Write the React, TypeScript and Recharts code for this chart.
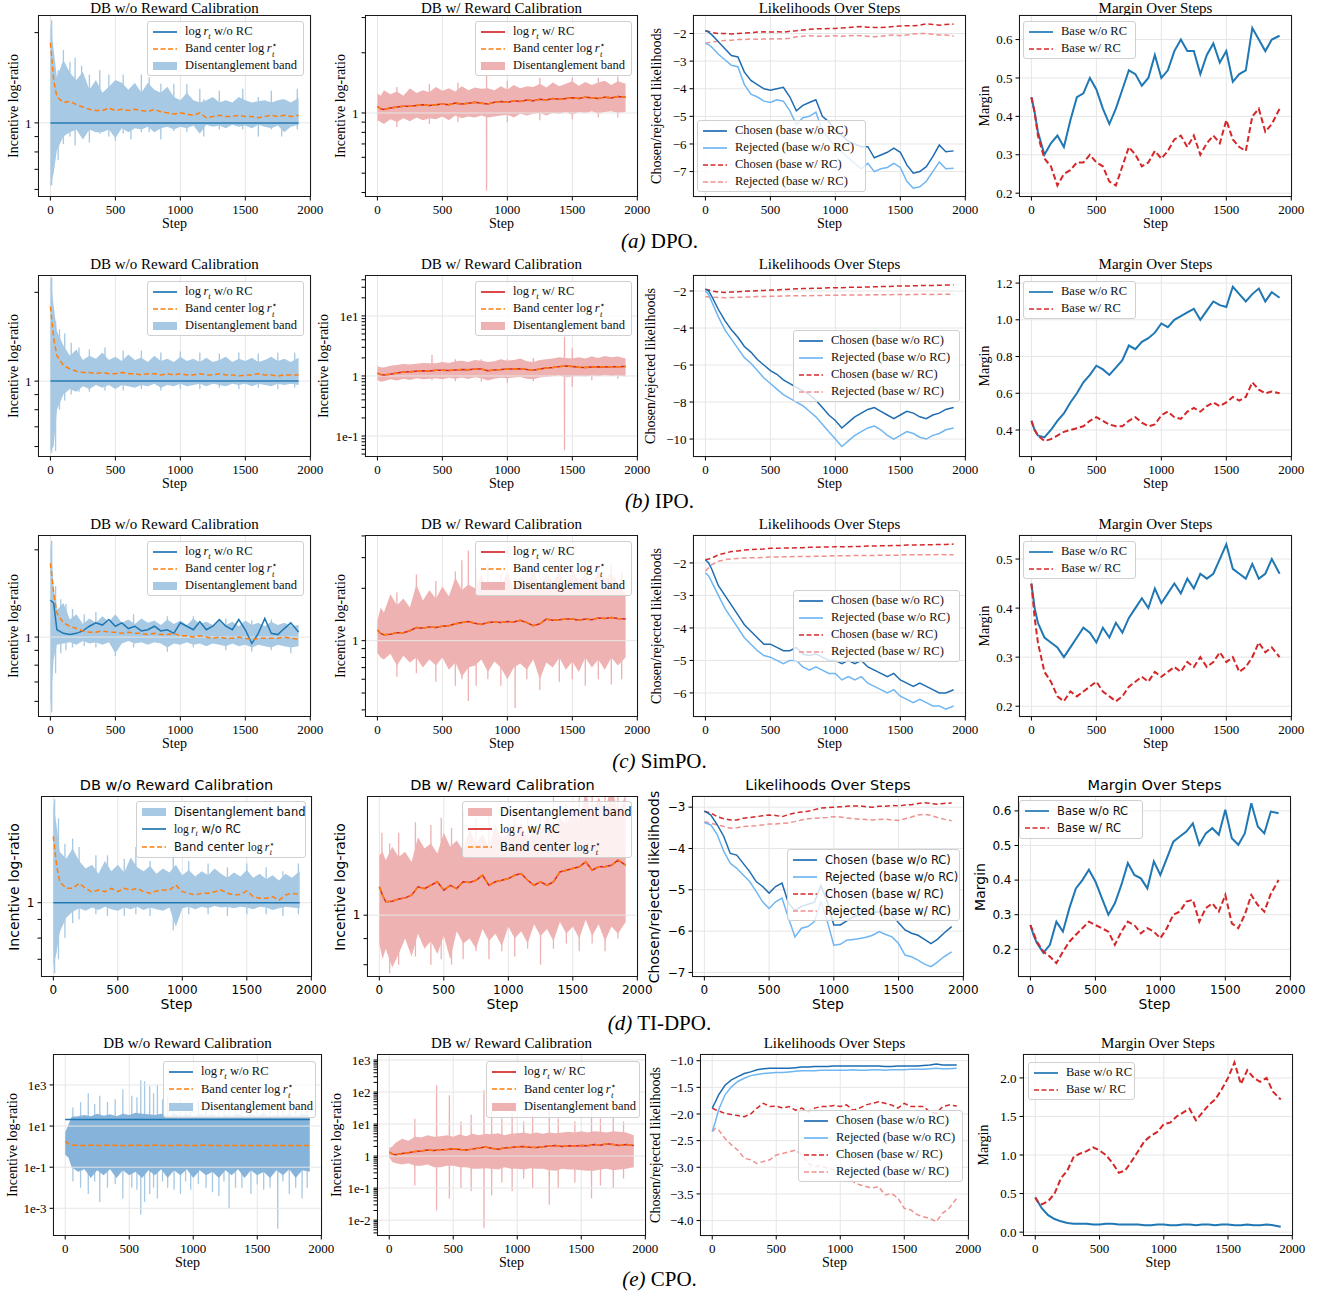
import React from 'react'
import { ComposedChart, Line, Area, XAxis, YAxis, CartesianGrid, ReferenceLine } from 'recharts'

const SERIF = '"Liberation Serif", "DejaVu Serif", serif'
const SANS = '"DejaVu Sans", "Liberation Sans", sans-serif'

const BLUE = '#1f77b4'
const DARK_BLUE = '#1f6db0'
const LIGHT_BLUE = '#6fb6f2'
const RED = '#d62728'
const PINK = '#ef9090'
const ORANGE = '#ff7f0e'
const GRID = '#e6e6e6'
const BAND_BLUE = '#a8c9e3'
const BAND_BLUE_DENSE = '#86b3d9'
const BAND_RED = '#efb2b2'

// x positions shared by every series (steps)
const STEPS = [0, 25, 50, 100, 150, 200, 250, 300, 350, 400,
  450, 500, 550, 600, 650, 700, 750, 800, 850, 900,
  950, 1000, 1050, 1100, 1150, 1200, 1250, 1300, 1350, 1400,
  1450, 1500, 1550, 1600, 1650, 1700, 1750, 1800, 1850, 1910]
const RT_STEPS = [0, 1910]
const X_TICKS = [0, 500, 1000, 1500, 2000]

// ---------- (a) DPO ----------
const aRtNoRC = [1, 1]
const aCenter1 = [1.85, 1.39, 1.22, 1.17, 1.18, 1.15, 1.13, 1.11, 1.10, 1.10,
  1.12, 1.10, 1.11, 1.10, 1.11, 1.10, 1.09, 1.11, 1.09, 1.08,
  1.07, 1.08, 1.07, 1.06, 1.08, 1.04, 1.05, 1.06, 1.05, 1.05,
  1.06, 1.05, 1.05, 1.04, 1.05, 1.06, 1.05, 1.06, 1.05, 1.06]
const aHi1 = [2.15, 1.75, 1.42, 1.62, 1.47, 1.39, 1.48, 1.29, 1.39, 1.26,
  1.32, 1.39, 1.36, 1.29, 1.36, 1.26, 1.36, 1.29, 1.26, 1.32,
  1.22, 1.19, 1.26, 1.19, 1.17, 1.19, 1.22, 1.17, 1.19, 1.17,
  1.22, 1.19, 1.17, 1.18, 1.19, 1.17, 1.19, 1.20, 1.17, 1.21]
const aLo1 = [0.61, 0.68, 0.81, 0.90, 0.93, 0.95, 0.88, 0.95, 0.93, 0.93,
  0.95, 0.89, 0.96, 0.93, 0.96, 0.95, 0.97, 0.93, 0.96, 0.97,
  0.95, 0.97, 0.96, 0.98, 0.92, 0.985, 0.97, 0.98, 0.96, 0.985,
  0.97, 0.98, 0.96, 0.985, 0.97, 0.96, 0.98, 0.93, 0.97, 0.985]
const aSpikeX1 = [10, 60, 100, 150, 190, 240, 300, 380, 450, 500, 560, 620, 700, 760, 850, 950, 1050, 1150, 1180, 1300, 1480, 1600, 1700, 1780, 1900]
const aSpikeLo1 = [0.62, 0.75, 0.85, 0.90, 0.84, 0.90, 0.86, 0.92, 0.90, 0.87, 0.92, 0.88, 0.93, 0.93, 0.88, 0.94, 0.93, 0.95, 0.90, 0.95, 0.95, 0.90, 0.95, 0.90, 0.95]
const aSpikeHi1 = [2.2, 1.5, 1.75, 1.6, 1.65, 1.55, 1.45, 1.5, 1.45, 1.3, 1.45, 1.3, 1.45, 1.42, 1.35, 1.35, 1.35, 1.3, 1.2, 1.28, 1.3, 1.22, 1.28, 1.2, 1.3]
const aCenter2 = [1.08, 1.05, 1.04, 1.06, 1.07, 1.08, 1.08, 1.09, 1.10, 1.09,
  1.10, 1.11, 1.10, 1.12, 1.11, 1.12, 1.13, 1.12, 1.11, 1.13,
  1.14, 1.13, 1.15, 1.14, 1.16, 1.15, 1.17, 1.16, 1.18, 1.17,
  1.18, 1.19, 1.18, 1.20, 1.19, 1.18, 1.20, 1.19, 1.21, 1.20]
const aHi2 = [1.25, 1.22, 1.30, 1.24, 1.28, 1.22, 1.33, 1.26, 1.30, 1.27,
  1.35, 1.29, 1.33, 1.28, 1.36, 1.30, 1.34, 1.32, 1.33, 1.30,
  1.36, 1.31, 1.38, 1.33, 1.36, 1.35, 1.40, 1.34, 1.42, 1.36,
  1.40, 1.44, 1.37, 1.43, 1.38, 1.42, 1.45, 1.38, 1.44, 1.40]
const aLo2 = [0.92, 0.90, 0.88, 0.93, 0.90, 0.94, 0.91, 0.95, 0.92, 0.94,
  0.93, 0.96, 0.92, 0.97, 0.94, 0.96, 0.95, 0.97, 0.95, 0.96,
  0.97, 0.98, 0.95, 0.99, 0.97, 0.99, 1.00, 0.97, 1.00, 0.99,
  1.01, 0.98, 1.01, 1.00, 1.02, 0.99, 1.01, 1.02, 1.00, 1.01]
const aSpikeX2 = [150, 400, 620, 840, 1000, 1250, 1500, 1700, 1850]
const aSpikeLo2 = [0.85, 0.88, 0.90, 0.41, 0.90, 0.92, 0.93, 0.95, 0.95]
const aSpikeHi2 = [1.35, 1.40, 1.42, 1.55, 1.45, 1.50, 1.50, 1.50, 1.52]
const aChosenNoRC = [-1.9, -1.95, -2.05, -2.3, -2.55, -2.8, -2.85, -3.4, -3.7, -3.85,
  -4.0, -4.05, -4.0, -3.95, -4.3, -4.8, -4.6, -4.5, -4.4, -5.0,
  -5.2, -5.5, -5.7, -5.9, -6.0, -6.1, -6.1, -6.5, -6.4, -6.3,
  -6.15, -6.3, -6.76, -7.06, -7.0, -6.82, -6.46, -6.04, -6.28, -6.25]
const aRejNoRC = [-2.35, -2.4, -2.5, -2.75, -2.95, -3.15, -3.2, -3.85, -4.2, -4.3,
  -4.45, -4.5, -4.4, -4.45, -4.8, -5.3, -5.05, -5.0, -4.85, -5.5,
  -5.8, -6.1, -6.3, -6.5, -6.7, -6.9, -6.7, -7.0, -6.9, -6.85,
  -6.7, -6.85, -7.35, -7.6, -7.55, -7.35, -7.0, -6.65, -6.9, -6.88]
const aChosenRC = [-1.9, -1.93, -1.97, -2.0, -2.0, -2.02, -2.0, -1.98, -1.97, -1.95,
  -1.94, -1.95, -1.94, -1.95, -1.92, -1.9, -1.87, -1.85, -1.83, -1.83,
  -1.82, -1.82, -1.8, -1.78, -1.76, -1.75, -1.77, -1.78, -1.78, -1.77,
  -1.75, -1.73, -1.72, -1.72, -1.7, -1.65, -1.67, -1.7, -1.67, -1.66]
const aRejRC = [-2.35, -2.33, -2.3, -2.28, -2.25, -2.24, -2.22, -2.22, -2.2, -2.21,
  -2.2, -2.2, -2.19, -2.2, -2.17, -2.12, -2.1, -2.08, -2.1, -2.1,
  -2.09, -2.08, -2.1, -2.08, -2.07, -2.08, -2.1, -2.12, -2.1, -2.07,
  -2.05, -2.08, -2.05, -2.02, -2.0, -2.0, -2.03, -2.05, -2.05, -2.1]
const aMarginNoRC = [0.45, 0.41, 0.36, 0.30, 0.33, 0.35, 0.32, 0.39, 0.45, 0.46,
  0.50, 0.47, 0.42, 0.38, 0.42, 0.47, 0.52, 0.51, 0.48, 0.50,
  0.56, 0.50, 0.52, 0.57, 0.60, 0.57, 0.57, 0.51, 0.56, 0.59,
  0.54, 0.57, 0.49, 0.51, 0.52, 0.63, 0.60, 0.57, 0.60, 0.61]
const aMarginRC = [0.45, 0.41, 0.35, 0.29, 0.27, 0.22, 0.25, 0.26, 0.28, 0.28,
  0.30, 0.28, 0.27, 0.23, 0.22, 0.27, 0.32, 0.30, 0.27, 0.28,
  0.31, 0.29, 0.31, 0.34, 0.35, 0.32, 0.35, 0.30, 0.33, 0.35,
  0.33, 0.39, 0.34, 0.32, 0.31, 0.40, 0.42, 0.36, 0.38, 0.42]

// ---------- (b) IPO ----------
const bRtNoRC = [1, 1]
const bCenter1 = [1.79, 1.40, 1.22, 1.13, 1.10, 1.08, 1.07, 1.07, 1.06, 1.07,
  1.06, 1.06, 1.07, 1.06, 1.06, 1.05, 1.06, 1.06, 1.05, 1.06,
  1.05, 1.06, 1.05, 1.05, 1.06, 1.05, 1.05, 1.06, 1.05, 1.05,
  1.04, 1.05, 1.05, 1.06, 1.05, 1.05, 1.04, 1.05, 1.05, 1.05]
const bHi1 = [2.25, 1.80, 1.48, 1.32, 1.22, 1.28, 1.18, 1.22, 1.19, 1.25,
  1.18, 1.21, 1.17, 1.23, 1.18, 1.20, 1.16, 1.22, 1.17, 1.19,
  1.16, 1.21, 1.17, 1.19, 1.16, 1.20, 1.16, 1.18, 1.21, 1.16,
  1.19, 1.17, 1.20, 1.16, 1.18, 1.21, 1.17, 1.19, 1.16, 1.20]
const bLo1 = [0.58, 0.60, 0.80, 0.90, 0.94, 0.92, 0.96, 0.94, 0.97, 0.95,
  0.97, 0.94, 0.97, 0.96, 0.95, 0.97, 0.96, 0.98, 0.95, 0.97,
  0.96, 0.98, 0.96, 0.97, 0.98, 0.96, 0.98, 0.97, 0.96, 0.98,
  0.97, 0.98, 0.96, 0.98, 0.97, 0.96, 0.98, 0.97, 0.98, 0.97]
const bSpikeX1 = [10, 40, 70, 110, 160, 220, 300, 420, 560, 700, 850, 1000, 1150, 1300, 1450, 1600, 1750, 1880]
const bSpikeLo1 = [0.57, 0.58, 0.80, 0.86, 0.90, 0.92, 0.92, 0.93, 0.93, 0.94, 0.93, 0.94, 0.94, 0.95, 0.94, 0.95, 0.94, 0.95]
const bSpikeHi1 = [2.25, 1.60, 1.50, 1.45, 1.35, 1.30, 1.28, 1.30, 1.27, 1.27, 1.25, 1.26, 1.25, 1.24, 1.25, 1.24, 1.25, 1.25]
const bCenter2 = [1.11, 1.06, 1.04, 1.07, 1.12, 1.16, 1.18, 1.20, 1.22, 1.21,
  1.24, 1.25, 1.23, 1.26, 1.28, 1.27, 1.30, 1.31, 1.22, 1.26,
  1.28, 1.31, 1.30, 1.32, 1.28, 1.25, 1.30, 1.36, 1.38, 1.43,
  1.46, 1.44, 1.40, 1.38, 1.41, 1.43, 1.41, 1.43, 1.42, 1.44]
const bHi2 = [1.45, 1.40, 1.38, 1.48, 1.52, 1.58, 1.55, 1.60, 1.65, 1.62,
  1.62, 1.70, 1.65, 1.75, 1.80, 1.70, 1.85, 1.80, 1.70, 1.75,
  1.90, 1.80, 1.85, 1.95, 1.75, 1.70, 1.85, 1.90, 1.95, 2.05,
  2.00, 1.95, 2.05, 1.95, 2.10, 2.00, 2.15, 2.05, 2.10, 1.95]
const bLo2 = [0.86, 0.80, 0.82, 0.88, 0.84, 0.90, 0.86, 0.92, 0.88, 0.90,
  0.92, 0.88, 0.93, 0.90, 0.94, 0.89, 0.95, 0.92, 0.84, 0.90,
  0.93, 0.92, 0.94, 0.96, 0.90, 0.88, 0.94, 0.97, 0.99, 1.02,
  0.95, 0.98, 1.0, 0.98, 1.02, 0.99, 1.03, 1.0, 1.02, 0.98]
const bSpikeX2 = [420, 600, 800, 1000, 1200, 1440, 1500, 1650, 1850]
const bSpikeLo2 = [0.85, 0.82, 0.80, 0.77, 0.82, 0.058, 0.66, 0.85, 0.90]
const bSpikeHi2 = [2.24, 1.90, 1.90, 1.90, 2.00, 4.50, 2.90, 2.10, 2.10]
const bChosenNoRC = [-1.9, -2.0, -2.3, -3.0, -3.6, -4.1, -4.5, -5.0, -5.3, -5.7,
  -6.0, -6.3, -6.5, -6.8, -7.0, -7.2, -7.4, -7.6, -7.9, -8.3,
  -8.7, -9.0, -9.4, -9.1, -8.8, -8.6, -8.4, -8.3, -8.5, -8.7,
  -8.9, -8.7, -8.5, -8.6, -8.8, -8.9, -8.7, -8.6, -8.4, -8.3]
const bRejNoRC = [-2.0, -2.2, -2.6, -3.4, -4.1, -4.6, -5.1, -5.6, -5.9, -6.3,
  -6.7, -7.0, -7.3, -7.6, -7.8, -8.0, -8.2, -8.5, -8.8, -9.2,
  -9.6, -10.0, -10.4, -10.1, -9.8, -9.6, -9.4, -9.3, -9.5, -9.8,
  -10.0, -9.8, -9.6, -9.7, -9.9, -10.0, -9.8, -9.7, -9.5, -9.4]
const bChosenRC = [-1.9, -1.95, -2.0, -2.05, -2.08, -2.06, -2.04, -2.02, -2.0, -1.98,
  -1.97, -1.95, -1.94, -1.92, -1.9, -1.88, -1.87, -1.86, -1.85, -1.85,
  -1.83, -1.82, -1.82, -1.8, -1.79, -1.8, -1.78, -1.77, -1.76, -1.76,
  -1.74, -1.73, -1.73, -1.72, -1.71, -1.7, -1.7, -1.69, -1.68, -1.68]
const bRejRC = [-2.3, -2.32, -2.34, -2.35, -2.36, -2.35, -2.34, -2.33, -2.32, -2.3,
  -2.3, -2.29, -2.28, -2.27, -2.26, -2.26, -2.25, -2.25, -2.24, -2.24,
  -2.23, -2.23, -2.22, -2.22, -2.21, -2.22, -2.21, -2.2, -2.2, -2.2,
  -2.19, -2.19, -2.2, -2.19, -2.18, -2.18, -2.19, -2.18, -2.18, -2.17]
const bMarginNoRC = [0.45, 0.40, 0.37, 0.36, 0.40, 0.45, 0.49, 0.55, 0.60, 0.66,
  0.70, 0.75, 0.73, 0.70, 0.74, 0.78, 0.86, 0.84, 0.88, 0.90,
  0.93, 0.98, 0.96, 1.00, 1.02, 1.04, 1.06, 1.00, 1.05, 1.10,
  1.08, 1.07, 1.18, 1.14, 1.10, 1.14, 1.17, 1.10, 1.15, 1.12]
const bMarginRC = [0.45, 0.40, 0.37, 0.34, 0.35, 0.37, 0.39, 0.40, 0.41, 0.42,
  0.45, 0.47, 0.45, 0.43, 0.42, 0.42, 0.45, 0.47, 0.44, 0.42,
  0.43, 0.48, 0.50, 0.47, 0.46, 0.50, 0.52, 0.50, 0.53, 0.55,
  0.53, 0.55, 0.58, 0.56, 0.58, 0.66, 0.62, 0.60, 0.61, 0.60]

// ---------- (c) SimPO ----------
const cRt1 = [1.34, 1.31, 1.06, 1.03, 1.02, 1.03, 1.05, 1.09, 1.12, 1.10,
  1.15, 1.09, 1.12, 1.07, 1.09, 1.05, 1.06, 1.09, 1.05, 1.06,
  1.03, 1.12, 1.09, 1.06, 1.13, 1.06, 1.09, 1.15, 1.09, 1.06,
  1.15, 1.06, 0.95, 1.03, 1.16, 1.03, 1.02, 1.07, 1.12, 1.04]
const cCenter1 = [1.80, 1.42, 1.21, 1.12, 1.09, 1.07, 1.05, 1.04, 1.04, 1.05,
  1.04, 1.04, 1.03, 1.04, 1.03, 1.03, 1.02, 1.03, 1.02, 1.02,
  1.03, 1.01, 1.01, 1.00, 1.01, 1.00, 0.99, 1.00, 0.99, 0.99,
  1.00, 0.99, 0.98, 0.99, 0.99, 0.99, 0.99, 1.00, 0.99, 0.985]
const cHi1 = [2.14, 1.49, 1.24, 1.31, 1.15, 1.20, 1.11, 1.16, 1.12, 1.18,
  1.13, 1.20, 1.12, 1.15, 1.11, 1.16, 1.12, 1.14, 1.10, 1.15,
  1.11, 1.14, 1.10, 1.16, 1.11, 1.13, 1.10, 1.15, 1.10, 1.13,
  1.09, 1.14, 1.10, 1.12, 1.09, 1.13, 1.10, 1.12, 1.09, 1.10]
const cLo1 = [0.57, 0.84, 0.94, 0.95, 0.96, 0.94, 0.97, 0.95, 0.96, 0.94,
  0.96, 0.88, 0.95, 0.97, 0.95, 0.96, 0.94, 0.96, 0.95, 0.92,
  0.95, 0.94, 0.96, 0.94, 0.95, 0.93, 0.95, 0.94, 0.93, 0.95,
  0.93, 0.94, 0.92, 0.94, 0.93, 0.92, 0.94, 0.93, 0.92, 0.93]
const cSpikeX1 = [10, 40, 80, 120, 170, 260, 350, 500, 640, 900, 1100, 1350, 1550, 1700, 1850]
const cSpikeLo1 = [0.55, 0.75, 0.88, 0.90, 0.92, 0.93, 0.92, 0.86, 0.92, 0.89, 0.92, 0.90, 0.89, 0.90, 0.88]
const cSpikeHi1 = [2.15, 1.50, 1.35, 1.30, 1.25, 1.20, 1.22, 1.15, 1.20, 1.18, 1.18, 1.16, 1.14, 1.15, 1.12]
const cCenter2 = [1.15, 1.10, 1.08, 1.09, 1.11, 1.11, 1.14, 1.19, 1.18, 1.20,
  1.19, 1.21, 1.22, 1.25, 1.27, 1.29, 1.26, 1.24, 1.27, 1.28,
  1.27, 1.29, 1.28, 1.31, 1.27, 1.22, 1.25, 1.33, 1.31, 1.32,
  1.33, 1.33, 1.31, 1.33, 1.32, 1.35, 1.34, 1.36, 1.34, 1.33]
const cHi2 = [1.30, 1.55, 1.45, 1.85, 1.60, 1.75, 1.55, 2.10, 1.70, 1.95,
  1.75, 2.05, 1.80, 2.30, 1.95, 2.10, 2.00, 2.40, 1.90, 2.20,
  2.05, 2.50, 1.95, 2.35, 2.10, 2.60, 2.00, 2.45, 2.15, 2.50,
  2.05, 2.55, 2.20, 2.40, 2.10, 2.50, 2.25, 2.45, 2.15, 1.85]
const cLo2 = [0.85, 0.80, 0.78, 0.84, 0.72, 0.82, 0.75, 0.80, 0.70, 0.78,
  0.72, 0.80, 0.68, 0.75, 0.62, 0.70, 0.72, 0.78, 0.66, 0.76,
  0.70, 0.60, 0.70, 0.74, 0.68, 0.78, 0.60, 0.75, 0.70, 0.80,
  0.68, 0.76, 0.66, 0.80, 0.70, 0.78, 0.68, 0.80, 0.72, 0.80]
const cSpikeX2 = [150, 300, 450, 600, 650, 700, 760, 850, 950, 1060, 1150, 1250, 1400, 1500, 1600, 1700, 1800, 1880]
const cSpikeLo2 = [0.62, 0.65, 0.58, 0.55, 0.60, 0.45, 0.55, 0.60, 0.55, 0.41, 0.60, 0.52, 0.58, 0.60, 0.55, 0.60, 0.56, 0.60]
const cSpikeHi2 = [1.90, 2.40, 2.20, 2.50, 2.90, 3.30, 2.60, 2.80, 2.40, 2.30, 2.70, 2.50, 2.80, 2.60, 2.90, 2.70, 2.80, 2.50]
const cChosenNoRC = [-1.9, -2.0, -2.2, -2.7, -3.0, -3.3, -3.6, -3.9, -4.1, -4.3,
  -4.5, -4.5, -4.6, -4.7, -4.7, -4.6, -4.8, -4.85, -4.8, -4.9,
  -5.0, -5.0, -5.1, -5.0, -5.1, -5.0, -5.2, -5.3, -5.4, -5.5,
  -5.4, -5.6, -5.7, -5.8, -5.7, -5.8, -5.9, -6.0, -6.0, -5.9]
const cRejNoRC = [-2.3, -2.4, -2.6, -3.0, -3.4, -3.7, -4.0, -4.3, -4.5, -4.7,
  -4.85, -4.9, -5.0, -5.1, -5.0, -5.0, -5.2, -5.3, -5.2, -5.3,
  -5.4, -5.4, -5.6, -5.5, -5.6, -5.5, -5.7, -5.8, -5.9, -6.0,
  -5.9, -6.1, -6.2, -6.3, -6.2, -6.3, -6.4, -6.4, -6.5, -6.4]
const cChosenRC = [-1.9, -1.88, -1.85, -1.75, -1.7, -1.65, -1.63, -1.6, -1.59, -1.58,
  -1.57, -1.55, -1.55, -1.54, -1.54, -1.53, -1.53, -1.52, -1.52, -1.51,
  -1.51, -1.5, -1.5, -1.5, -1.49, -1.49, -1.48, -1.48, -1.47, -1.47,
  -1.46, -1.46, -1.45, -1.45, -1.45, -1.44, -1.44, -1.43, -1.43, -1.42]
const cRejRC = [-2.25, -2.15, -2.05, -1.95, -1.9, -1.88, -1.86, -1.85, -1.84, -1.84,
  -1.83, -1.82, -1.82, -1.81, -1.81, -1.8, -1.8, -1.8, -1.79, -1.79,
  -1.79, -1.78, -1.78, -1.78, -1.77, -1.77, -1.77, -1.77, -1.76, -1.76,
  -1.76, -1.76, -1.75, -1.75, -1.75, -1.75, -1.75, -1.74, -1.75, -1.75]
const cMarginNoRC = [0.45, 0.40, 0.37, 0.34, 0.33, 0.32, 0.30, 0.32, 0.34, 0.36,
  0.35, 0.33, 0.36, 0.34, 0.37, 0.35, 0.38, 0.40, 0.42, 0.40,
  0.44, 0.41, 0.43, 0.45, 0.43, 0.46, 0.44, 0.47, 0.46, 0.47,
  0.50, 0.53, 0.48, 0.47, 0.46, 0.49, 0.46, 0.47, 0.50, 0.47]
const cMarginRC = [0.45, 0.38, 0.33, 0.27, 0.25, 0.22, 0.21, 0.23, 0.22, 0.23,
  0.24, 0.25, 0.23, 0.22, 0.21, 0.22, 0.24, 0.25, 0.26, 0.25,
  0.27, 0.26, 0.27, 0.28, 0.27, 0.29, 0.28, 0.30, 0.28, 0.29,
  0.31, 0.29, 0.30, 0.27, 0.28, 0.30, 0.33, 0.31, 0.32, 0.30]

// ---------- (d) TI-DPO ----------
const dRtNoRC = [1, 1]
const dCenter1 = [1.52, 1.27, 1.14, 1.095, 1.095, 1.13, 1.095, 1.07, 1.083, 1.072,
  1.095, 1.072, 1.095, 1.083, 1.095, 1.072, 1.061, 1.077, 1.083, 1.083,
  1.118, 1.072, 1.061, 1.05, 1.061, 1.061, 1.072, 1.083, 1.061, 1.05,
  1.054, 1.077, 1.039, 1.028, 1.028, 1.039, 1.017, 1.05, 1.061, 1.054]
const dHi1 = [1.87, 1.63, 1.38, 1.32, 1.41, 1.30, 1.24, 1.27, 1.20, 1.30,
  1.22, 1.27, 1.21, 1.33, 1.25, 1.22, 1.26, 1.20, 1.24, 1.21,
  1.27, 1.19, 1.23, 1.18, 1.22, 1.19, 1.24, 1.20, 1.17, 1.21,
  1.18, 1.23, 1.17, 1.20, 1.16, 1.19, 1.15, 1.20, 1.17, 1.22]
const dLo1 = [0.67, 0.73, 0.83, 0.91, 0.945, 0.965, 0.95, 0.97, 0.955, 0.975,
  0.96, 0.95, 0.97, 0.96, 0.975, 0.955, 0.97, 0.96, 0.95, 0.97,
  0.86, 0.965, 0.975, 0.96, 0.975, 0.965, 0.98, 0.97, 0.975, 0.965,
  0.975, 0.97, 0.96, 0.975, 0.97, 0.955, 0.965, 0.975, 0.97, 0.965]
const dSpikeX1 = [10, 40, 90, 150, 200, 330, 420, 550, 640, 750, 930, 1050, 1200, 1350, 1500, 1650, 1780, 1900]
const dSpikeLo1 = [0.64, 0.70, 0.80, 0.88, 0.90, 0.93, 0.92, 0.92, 0.93, 0.92, 0.84, 0.93, 0.93, 0.92, 0.93, 0.93, 0.92, 0.93]
const dSpikeHi1 = [1.92, 1.70, 1.45, 1.50, 1.42, 1.35, 1.35, 1.32, 1.42, 1.30, 1.35, 1.30, 1.28, 1.25, 1.28, 1.25, 1.22, 1.28]
const dCenter2 = [1.136, 1.094, 1.062, 1.065, 1.075, 1.081, 1.094, 1.136, 1.127, 1.144,
  1.162, 1.119, 1.144, 1.127, 1.162, 1.158, 1.17, 1.197, 1.144, 1.162,
  1.17, 1.179, 1.197, 1.206, 1.17, 1.144, 1.162, 1.144, 1.162, 1.215,
  1.224, 1.234, 1.243, 1.271, 1.224, 1.243, 1.243, 1.252, 1.281, 1.252]
const dHi2 = [1.31, 1.33, 1.28, 1.36, 1.30, 1.33, 1.27, 1.42, 1.35, 1.38,
  1.32, 1.45, 1.36, 1.40, 1.34, 1.47, 1.38, 1.44, 1.36, 1.50,
  1.40, 1.46, 1.42, 1.52, 1.40, 1.48, 1.44, 1.58, 1.46, 1.55,
  1.50, 1.62, 1.52, 1.75, 1.54, 1.70, 1.60, 1.80, 1.58, 1.72]
const dLo2 = [0.88, 0.82, 0.86, 0.79, 0.84, 0.90, 0.83, 0.92, 0.86, 0.89,
  0.84, 0.91, 0.82, 0.93, 0.88, 0.90, 0.86, 0.94, 0.89, 0.92,
  0.87, 0.95, 0.90, 0.93, 0.88, 0.96, 0.91, 0.94, 0.89, 0.97,
  0.92, 0.95, 0.90, 0.98, 0.91, 0.96, 0.89, 0.95, 0.92, 0.97]
const dSpikeX2 = [20, 80, 150, 280, 400, 480, 560, 650, 750, 850, 950, 1050, 1150, 1250, 1350, 1450, 1550, 1650, 1750, 1850]
const dSpikeLo2 = [0.85, 0.77, 0.80, 0.83, 0.80, 0.82, 0.80, 0.82, 0.85, 0.82, 0.85, 0.83, 0.86, 0.80, 0.86, 0.88, 0.85, 0.88, 0.85, 0.90]
const dSpikeHi2 = [1.45, 1.38, 1.45, 1.52, 1.50, 1.55, 1.48, 1.60, 1.55, 1.60, 1.62, 1.58, 1.65, 1.60, 1.70, 1.65, 1.75, 1.80, 1.75, 1.80]
const dChosenNoRC = [-3.1, -3.14, -3.19, -3.43, -3.71, -4.12, -4.16, -4.36, -4.56, -4.8,
  -4.92, -5.08, -4.92, -4.84, -5.33, -5.5, -5.4, -5.35, -5.3, -4.9,
  -5.3, -5.85, -5.85, -5.75, -5.65, -5.61, -5.58, -5.55, -5.53, -5.57,
  -5.61, -5.8, -5.97, -6.05, -6.1, -6.2, -6.3, -6.2, -6.05, -5.89]
const dRejNoRC = [-3.37, -3.4, -3.43, -3.67, -4.07, -4.36, -4.48, -4.64, -4.8, -5.04,
  -5.29, -5.45, -5.29, -5.2, -5.69, -6.14, -5.93, -5.89, -5.77, -5.29,
  -5.77, -6.34, -6.32, -6.22, -6.2, -6.18, -6.15, -6.1, -6.01, -6.08,
  -6.14, -6.3, -6.58, -6.62, -6.7, -6.8, -6.86, -6.75, -6.62, -6.5]
const dChosenRC = [-3.1, -3.12, -3.14, -3.23, -3.28, -3.31, -3.31, -3.27, -3.25, -3.23,
  -3.21, -3.19, -3.2, -3.23, -3.18, -3.14, -3.12, -3.1, -3.06, -3.02,
  -3.01, -3.0, -2.99, -2.98, -2.97, -2.97, -2.99, -3.0, -2.98, -2.98,
  -2.96, -2.97, -2.95, -2.94, -2.91, -2.89, -2.91, -2.93, -2.91, -2.9]
const dRejRC = [-3.35, -3.37, -3.39, -3.43, -3.47, -3.51, -3.5, -3.47, -3.46, -3.45,
  -3.43, -3.41, -3.41, -3.39, -3.38, -3.35, -3.31, -3.28, -3.27, -3.26,
  -3.25, -3.23, -3.24, -3.26, -3.28, -3.29, -3.3, -3.31, -3.3, -3.29,
  -3.31, -3.32, -3.28, -3.24, -3.19, -3.17, -3.2, -3.25, -3.29, -3.33]
const dMarginNoRC = [0.27, 0.24, 0.218, 0.19, 0.213, 0.28, 0.251, 0.319, 0.376, 0.40,
  0.43, 0.396, 0.348, 0.30, 0.333, 0.386, 0.449, 0.415, 0.405, 0.376,
  0.454, 0.415, 0.463, 0.511, 0.526, 0.54, 0.564, 0.502, 0.535, 0.55,
  0.531, 0.603, 0.521, 0.502, 0.535, 0.622, 0.555, 0.535, 0.598, 0.593]
const dMarginRC = [0.27, 0.246, 0.222, 0.193, 0.179, 0.16, 0.193, 0.222, 0.242, 0.261,
  0.28, 0.27, 0.261, 0.251, 0.213, 0.251, 0.28, 0.27, 0.246, 0.261,
  0.251, 0.232, 0.261, 0.30, 0.309, 0.338, 0.343, 0.28, 0.319, 0.333,
  0.309, 0.357, 0.275, 0.261, 0.30, 0.357, 0.328, 0.309, 0.36, 0.40]

// ---------- (e) CPO ----------
const eRtNoRC = [21, 21]
const eCenter1 = [1.8, 1.4, 1.16, 1.15, 1.15, 1.16, 1.15, 1.15, 1.16, 1.15,
  1.15, 1.15, 1.16, 1.15, 1.15, 1.16, 1.15, 1.15, 1.15, 1.16,
  1.15, 1.15, 1.15, 1.16, 1.15, 1.15, 1.14, 1.15, 1.15, 1.15,
  1.15, 1.14, 1.15, 1.15, 1.15, 1.15, 1.15, 1.14, 1.15, 1.15]
const eHi1 = [5, 12, 28, 30, 35, 30, 40, 32, 38, 30,
  40, 35, 45, 40, 38, 35, 40, 30, 38, 32,
  36, 30, 38, 32, 36, 30, 35, 32, 38, 30,
  36, 32, 38, 30, 35, 32, 36, 30, 38, 30]
const eLo1 = [0.4, 0.3, 0.1, 0.06, 0.08, 0.03, 0.07, 0.04, 0.08, 0.03,
  0.07, 0.04, 0.06, 0.03, 0.07, 0.04, 0.08, 0.03, 0.07, 0.04,
  0.08, 0.03, 0.07, 0.04, 0.06, 0.03, 0.07, 0.04, 0.08, 0.03,
  0.07, 0.04, 0.06, 0.03, 0.07, 0.04, 0.08, 0.03, 0.07, 0.06]
const eSpikeX1 = [60, 120, 180, 230, 270, 330, 390, 450, 520, 560,
  590, 620, 660, 690, 720, 760, 800, 850, 900, 940,
  980, 1040, 1100, 1150, 1200, 1240, 1280, 1330, 1380, 1450,
  1500, 1550, 1600, 1660, 1700, 1750, 1800, 1850, 1890]
const eSpikeLo1 = [0.02, 0.01, 0.005, 0.02, 0.002, 0.01, 0.015, 0.003, 0.01, 0.008,
  0.0005, 0.002, 0.005, 0.01, 0.003, 0.02, 0.01, 0.008, 0.005, 0.02,
  0.008, 0.015, 0.01, 0.006, 0.004, 0.02, 0.001, 0.01, 0.01, 0.005,
  0.015, 0.008, 0.01, 0.0001, 0.02, 0.005, 0.01, 0.003, 0.01]
const eSpikeHi1 = [80, 150, 400, 120, 300, 150, 200, 600, 300, 250,
  1700, 1500, 900, 400, 1000, 200, 300, 150, 200, 120,
  150, 180, 250, 100, 120, 150, 300, 100, 200, 150,
  120, 180, 90, 100, 150, 200, 120, 250, 180]
const eCenter2 = [1.33, 1.15, 1.10, 1.20, 1.27, 1.40, 1.45, 1.55, 1.50, 1.58,
  1.62, 1.70, 1.62, 1.55, 1.65, 1.80, 1.91, 1.75, 1.65, 1.80,
  1.85, 1.95, 2.00, 1.90, 1.85, 1.95, 2.05, 2.15, 2.00, 2.10,
  2.05, 2.16, 2.10, 2.30, 2.20, 2.44, 2.30, 2.16, 2.30, 2.16]
const eHi2 = [1.8, 2.0, 2.6, 3.5, 3.0, 4.0, 3.8, 4.5, 4.0, 4.2,
  4.5, 4.0, 4.8, 4.2, 5.0, 4.5, 5.0, 4.8, 5.2, 4.5,
  5.0, 5.2, 5.5, 5.0, 5.5, 5.0, 5.5, 5.2, 5.5, 5.8,
  5.5, 6.0, 5.5, 6.0, 5.8, 5.5, 6.0, 5.8, 5.5, 4.5]
const eLo2 = [0.9, 0.65, 0.6, 0.55, 0.6, 0.5, 0.5, 0.55, 0.45, 0.45,
  0.5, 0.5, 0.45, 0.45, 0.4, 0.4, 0.42, 0.4, 0.38, 0.45,
  0.4, 0.4, 0.38, 0.42, 0.4, 0.4, 0.36, 0.35, 0.4, 0.38,
  0.38, 0.36, 0.35, 0.35, 0.38, 0.4, 0.36, 0.38, 0.4, 0.45]
const eSpikeX2 = [200, 370, 470, 560, 640, 740, 800, 880, 960, 1050, 1120, 1250, 1320, 1450, 1580, 1650, 1750, 1830]
const eSpikeLo2 = [0.12, 0.02, 0.047, 0.1, 0.08, 0.0056, 0.06, 0.15, 0.08, 0.2, 0.1, 0.03, 0.1, 0.15, 0.047, 0.12, 0.1, 0.2]
const eSpikeHi2 = [14.7, 162, 79, 12, 20, 113, 25, 15, 30, 12, 20, 30, 15, 12, 40, 15, 18, 12]
const eChosenNoRC = [-1.89, -1.77, -1.64, -1.46, -1.36, -1.3, -1.24, -1.21, -1.17, -1.15,
  -1.14, -1.14, -1.14, -1.14, -1.13, -1.12, -1.12, -1.11, -1.11, -1.11,
  -1.1, -1.1, -1.1, -1.1, -1.1, -1.1, -1.1, -1.1, -1.11, -1.11,
  -1.1, -1.1, -1.1, -1.1, -1.09, -1.08, -1.06, -1.08, -1.08, -1.08]
const eRejNoRC = [-2.33, -2.14, -1.92, -1.64, -1.49, -1.39, -1.33, -1.28, -1.26, -1.24,
  -1.23, -1.22, -1.22, -1.21, -1.2, -1.19, -1.19, -1.19, -1.18, -1.18,
  -1.18, -1.18, -1.18, -1.17, -1.18, -1.18, -1.17, -1.17, -1.18, -1.17,
  -1.17, -1.17, -1.16, -1.16, -1.16, -1.15, -1.14, -1.15, -1.15, -1.14]
const eChosenRC = [-1.89, -1.92, -1.94, -1.99, -2.01, -2.03, -2.05, -2.0, -1.89, -1.8,
  -1.86, -1.85, -1.89, -1.86, -1.93, -1.89, -1.96, -1.89, -1.86, -1.86,
  -1.84, -1.86, -1.83, -1.93, -1.89, -1.83, -1.8, -1.77, -1.8, -1.83,
  -1.89, -1.8, -1.86, -1.86, -1.86, -1.96, -1.99, -1.86, -1.83, -1.85]
const eRejRC = [-2.33, -2.27, -2.3, -2.46, -2.58, -2.68, -2.83, -2.86, -2.93, -2.89,
  -2.86, -2.77, -2.74, -2.71, -2.68, -2.77, -2.93, -2.99, -2.96, -3.02,
  -3.05, -3.08, -3.14, -3.27, -3.33, -3.36, -3.39, -3.36, -3.52, -3.49,
  -3.58, -3.77, -3.8, -3.89, -3.93, -3.96, -4.02, -3.86, -3.77, -3.58]
const eMarginNoRC = [0.45, 0.38, 0.31, 0.22, 0.17, 0.14, 0.12, 0.11, 0.11, 0.11,
  0.10, 0.10, 0.11, 0.11, 0.10, 0.10, 0.10, 0.10, 0.09, 0.09,
  0.10, 0.10, 0.09, 0.09, 0.10, 0.10, 0.09, 0.10, 0.10, 0.09,
  0.10, 0.10, 0.09, 0.09, 0.10, 0.09, 0.09, 0.10, 0.09, 0.07]
const eMarginRC = [0.45, 0.38, 0.36, 0.40, 0.50, 0.70, 0.80, 0.98, 1.02, 1.05,
  1.10, 1.06, 1.00, 0.90, 0.77, 0.80, 0.92, 1.05, 1.18, 1.25,
  1.30, 1.40, 1.42, 1.50, 1.55, 1.60, 1.45, 1.55, 1.65, 1.72,
  1.85, 2.00, 2.20, 1.92, 2.10, 2.00, 1.95, 2.00, 1.82, 1.72]

const CAPTIONS = [
  { tag: '(a)', name: 'DPO.', y: 241 },
  { tag: '(b)', name: 'IPO.', y: 501 },
  { tag: '(c)', name: 'SimPO.', y: 761 },
  { tag: '(d)', name: 'TI-DPO.', y: 1023 },
  { tag: '(e)', name: 'CPO.', y: 1279 },
]

type Band = { kind: 'band'; key: string; lo: number[]; hi: number[]; color: string }
type Spikes = { kind: 'spikes'; key: string; xs: number[]; lo: number[]; hi: number[]; color: string }
type Ln = { kind: 'line'; key: string; values: number[]; xs?: number[]; color: string; dash?: string; width?: number }
type Series = Band | Spikes | Ln
type LegendItem = { type: 'line' | 'dash' | 'band'; color: string; label: React.ReactNode }
type LegendSpec = { x: number; y: number; w: number; rowH: number; items: LegendItem[] }

type PanelProps = {
  box: number[]
  title: string
  ylabel: string
  ylabelX: number
  sans?: boolean
  log?: boolean
  domain: number[]
  ticks: number[]
  minor?: number[]
  fmt: (v: number) => string
  series: Series[]
  legend: LegendSpec
}

const fmtInt = (v: number) => (v < 0 ? '\u2212' : '') + Math.abs(v).toString()
const fmtDec = (v: number) => (v < 0 ? '\u2212' : '') + Math.abs(v).toFixed(1)
const fmtExp = (v: number) => (v === 1 ? '1' : '1e' + Math.round(Math.log10(v)))

function LogR({ star }: { star?: boolean }) {
  return (
    <span style={{ fontFamily: SERIF }}>
      log&thinsp;<i>r</i>
      {star ? (
        <span style={{ position: 'relative', display: 'inline-block', width: '0.42em', height: '0.1em' }}>
          <span style={{ position: 'absolute', left: 0, bottom: '0.25em', fontSize: '0.75em', fontFamily: SANS, lineHeight: 1 }}>{'\u22c6'}</span>
          <i style={{ position: 'absolute', left: '0.05em', top: '-0.05em', fontSize: '0.7em', lineHeight: 1 }}>t</i>
        </span>
      ) : (
        <sub style={{ fontSize: '0.7em', lineHeight: 0 }}><i>t</i></sub>
      )}
    </span>
  )
}

function LegendBox({ spec, sans }: { spec: LegendSpec; sans?: boolean }) {
  return (
    <div style={{
      position: 'absolute', left: spec.x, top: spec.y, width: spec.w, padding: '1px 0',
      background: 'rgba(255,255,255,0.8)', border: '1px solid #d0d0d0', borderRadius: 3,
      boxSizing: 'border-box', fontFamily: sans ? SANS : SERIF, fontSize: sans ? 11.5 : 12.5,
      color: '#111', zIndex: 3,
    }}>
      {spec.items.map((it, i) => (
        <div key={i} style={{ height: spec.rowH, display: 'flex', alignItems: 'center', whiteSpace: 'nowrap' }}>
          <svg width={24} height={10} style={{ marginLeft: 5, marginRight: 8, flex: 'none' }}>
            {it.type === 'band' ? (
              <rect x={0} y={1} width={24} height={8} fill={it.color} />
            ) : (
              <line x1={0} y1={5} x2={24} y2={5} stroke={it.color} strokeWidth={1.7}
                strokeDasharray={it.type === 'dash' ? '5 2.5' : undefined} />
            )}
          </svg>
          <span>{it.label}</span>
        </div>
      ))}
    </div>
  )
}

function spikeRows(s: Spikes) {
  // each spike: a thin flat-topped bar around its step, zero width between spikes
  return s.xs.flatMap((x, i) => {
    const m = Math.sqrt(s.lo[i] * s.hi[i])
    return [
      { x: x - 6, [s.key]: [m, m] },
      { x: x - 5, [s.key]: [s.lo[i], s.hi[i]] },
      { x: x + 5, [s.key]: [s.lo[i], s.hi[i]] },
      { x: x + 6, [s.key]: [m, m] },
    ]
  })
}

function Panel(p: PanelProps) {
  const [l, t, r, b] = p.box
  const w = r - l
  const h = b - t
  const font = p.sans ? SANS : SERIF
  const tickFont = p.sans ? 12 : 13
  const YW = 60
  const TOP = 10
  const RIGHT = 26
  const XH = 34
  const rows = STEPS.map((x, i) => {
    const o: Record<string, number | number[]> = { x }
    p.series.forEach((s) => {
      if (s.kind === 'band') o[s.key] = [s.lo[i], s.hi[i]]
      else if (s.kind === 'line' && !s.xs) o[s.key] = s.values[i]
    })
    return o
  })
  const allTicks = [...p.ticks, ...(p.minor ?? [])].sort((a, c) => a - c)
  const fmt = (v: number) => (p.ticks.includes(v) ? p.fmt(v) : '')
  return (
    <>
      <div style={{ position: 'absolute', left: l - YW, top: t - TOP }}>
        <ComposedChart width={w + YW + RIGHT} height={h + TOP + XH} data={rows}
          margin={{ top: TOP, right: RIGHT, bottom: 0, left: 0 }}>
          <CartesianGrid stroke={GRID} horizontal={!p.log} vertical />
          {p.log && p.ticks.map((v) => <ReferenceLine key={v} y={v} stroke={GRID} />)}
          <XAxis type="number" dataKey="x" domain={[-95.5, 2005.5]} ticks={X_TICKS} interval={0}
            allowDataOverflow axisLine={false} tickSize={3.5} tickMargin={4.5} height={XH}
            tickLine={{ stroke: '#000' }} tick={{ fontSize: tickFont, fontFamily: font, fill: '#000' }} />
          <YAxis type="number" scale={p.log ? 'log' : 'linear'} domain={p.domain} ticks={allTicks} interval={0}
            allowDataOverflow axisLine={false} tickSize={3.5} tickMargin={3} width={YW} tickFormatter={fmt}
            tickLine={{ stroke: '#000' }} tick={{ fontSize: tickFont, fontFamily: font, fill: '#000' }} />
          {p.series.map((s) => {
            if (s.kind === 'band') {
              return <Area key={s.key} dataKey={s.key} type="linear" stroke="none" fill={s.color}
                fillOpacity={1} isAnimationActive={false} />
            }
            if (s.kind === 'spikes') {
              return <Area key={s.key} dataKey={s.key} data={spikeRows(s)} type="linear" stroke="none"
                fill={s.color} fillOpacity={1} isAnimationActive={false} />
            }
            return <Line key={s.key} dataKey={s.key} type="linear" stroke={s.color} strokeWidth={s.width ?? 1.5}
              strokeDasharray={s.dash} dot={false} isAnimationActive={false}
              data={s.xs ? s.xs.map((x, i) => ({ x, [s.key]: s.values[i] })) : undefined} />
          })}
        </ComposedChart>
      </div>
      <div style={{ position: 'absolute', left: l, top: t, width: w, height: h, border: '1px solid #1a1a1a', boxSizing: 'border-box', pointerEvents: 'none', zIndex: 2 }} />
      <div style={{ position: 'absolute', left: l, width: w, top: Math.max(0, t - 19), textAlign: 'center', fontFamily: font, fontSize: p.sans ? 14.5 : 15, lineHeight: '16px', whiteSpace: 'nowrap' }}>{p.title}</div>
      <div style={{ position: 'absolute', left: l, width: w, top: b + 19, textAlign: 'center', fontFamily: font, fontSize: 14, lineHeight: '16px' }}>Step</div>
      <div style={{ position: 'absolute', left: p.ylabelX, top: (t + b) / 2, transform: 'translate(-50%, -50%) rotate(-90deg)', fontFamily: font, fontSize: 14, lineHeight: '16px', whiteSpace: 'nowrap' }}>{p.ylabel}</div>
      <LegendBox spec={p.legend} sans={p.sans} />
    </>
  )
}

function col1Legend(x: number, y: number, w: number, rowH: number, sans?: boolean): LegendSpec {
  const band: LegendItem = { type: 'band', color: BAND_BLUE, label: 'Disentanglement band' }
  const rt: LegendItem = { type: 'line', color: BLUE, label: <><LogR /> w/o RC</> }
  const ctr: LegendItem = { type: 'dash', color: ORANGE, label: <>Band center <LogR star /></> }
  return { x, y, w, rowH, items: sans ? [band, rt, ctr] : [rt, ctr, band] }
}
function col2Legend(x: number, y: number, w: number, rowH: number, sans?: boolean): LegendSpec {
  const band: LegendItem = { type: 'band', color: BAND_RED, label: 'Disentanglement band' }
  const rt: LegendItem = { type: 'line', color: RED, label: <><LogR /> w/ RC</> }
  const ctr: LegendItem = { type: 'dash', color: ORANGE, label: <>Band center <LogR star /></> }
  return { x, y, w, rowH, items: sans ? [band, rt, ctr] : [rt, ctr, band] }
}
function col3Legend(x: number, y: number, w: number): LegendSpec {
  return {
    x, y, w, rowH: 17, items: [
      { type: 'line', color: DARK_BLUE, label: 'Chosen (base w/o RC)' },
      { type: 'line', color: LIGHT_BLUE, label: 'Rejected (base w/o RC)' },
      { type: 'dash', color: RED, label: 'Chosen (base w/ RC)' },
      { type: 'dash', color: PINK, label: 'Rejected (base w/ RC)' },
    ],
  }
}
function col4Legend(x: number, y: number, w: number, rowH = 17): LegendSpec {
  return {
    x, y, w, rowH, items: [
      { type: 'line', color: BLUE, label: 'Base w/o RC' },
      { type: 'dash', color: RED, label: 'Base w/ RC' },
    ],
  }
}

function bandSeries(rt: number[], rtXs: number[] | undefined, rtColor: string, center: number[], lo: number[], hi: number[],
  sx: number[], slo: number[], shi: number[], bandColor: string, coreColor?: string): Series[] {
  return [
    { kind: 'spikes', key: 'spk', xs: sx, lo: slo, hi: shi, color: bandColor },
    { kind: 'band', key: 'band', lo, hi, color: coreColor ?? bandColor },
    { kind: 'line', key: 'rt', values: rt, xs: rtXs, color: rtColor, width: 1.5 },
    { kind: 'line', key: 'center', values: center, color: ORANGE, dash: '5 3', width: 1.5 },
  ]
}
function likeSeries(c: number[], r: number[], cr: number[], rr: number[]): Series[] {
  return [
    { kind: 'line', key: 'cr', values: cr, color: RED, dash: '5 3', width: 1.5 },
    { kind: 'line', key: 'rr', values: rr, color: PINK, dash: '5 3', width: 1.5 },
    { kind: 'line', key: 'c', values: c, color: DARK_BLUE, width: 1.5 },
    { kind: 'line', key: 'r', values: r, color: LIGHT_BLUE, width: 1.5 },
  ]
}
function marginSeries(m: number[], mr: number[]): Series[] {
  return [
    { kind: 'line', key: 'm', values: m, color: BLUE, width: 2 },
    { kind: 'line', key: 'mr', values: mr, color: RED, dash: '6 3', width: 2 },
  ]
}

const T1 = 'DB w/o Reward Calibration'
const T2 = 'DB w/ Reward Calibration'
const T3 = 'Likelihoods Over Steps'
const T4 = 'Margin Over Steps'
const YL1 = 'Incentive log-ratio'
const YL3 = 'Chosen/rejected likelihoods'
const YL4 = 'Margin'

export default function App() {
  const panels: PanelProps[] = [
    // (a)
    { box: [38, 15, 311, 197], title: T1, ylabel: YL1, ylabelX: 14, log: true, domain: [0.566, 2.29], ticks: [1], minor: [0.6, 0.7, 0.8, 0.9, 2], fmt: fmtExp,
      series: bandSeries(aRtNoRC, RT_STEPS, BLUE, aCenter1, aLo1, aHi1, aSpikeX1, aSpikeLo1, aSpikeHi1, BAND_BLUE), legend: col1Legend(147, 21, 157, 17) },
    { box: [365, 15, 638, 197], title: T2, ylabel: YL1, ylabelX: 341, log: true, domain: [0.38, 3.09], ticks: [1], minor: [0.4, 0.5, 0.6, 0.7, 0.8, 0.9, 2, 3], fmt: fmtExp,
      series: bandSeries(aCenter2, undefined, RED, aCenter2, aLo2, aHi2, aSpikeX2, aSpikeLo2, aSpikeHi2, BAND_RED), legend: col2Legend(475, 21, 157, 17) },
    { box: [693, 15, 966, 197], title: T3, ylabel: YL3, ylabelX: 657, domain: [-7.92, -1.33], ticks: [-7, -6, -5, -4, -3, -2], fmt: fmtInt,
      series: likeSeries(aChosenNoRC, aRejNoRC, aChosenRC, aRejRC), legend: col3Legend(697, 120, 169) },
    { box: [1019, 15, 1292, 197], title: T4, ylabel: YL4, ylabelX: 985, domain: [0.19, 0.664], ticks: [0.2, 0.3, 0.4, 0.5, 0.6], fmt: fmtDec,
      series: marginSeries(aMarginNoRC, aMarginRC), legend: col4Legend(1023, 21, 113) },
    // (b)
    { box: [38, 275, 311, 457], title: T1, ylabel: YL1, ylabelX: 14, log: true, domain: [0.553, 2.29], ticks: [1], minor: [0.6, 0.7, 0.8, 0.9, 2], fmt: fmtExp,
      series: bandSeries(bRtNoRC, RT_STEPS, BLUE, bCenter1, bLo1, bHi1, bSpikeX1, bSpikeLo1, bSpikeHi1, BAND_BLUE), legend: col1Legend(147, 281, 157, 17) },
    { box: [365, 275, 638, 457], title: T2, ylabel: YL1, ylabelX: 324, log: true, domain: [0.0447, 48], ticks: [0.1, 1, 10],
      minor: [0.05, 0.06, 0.07, 0.08, 0.09, 0.2, 0.3, 0.4, 0.5, 0.6, 0.7, 0.8, 0.9, 2, 3, 4, 5, 6, 7, 8, 9, 20, 30, 40], fmt: fmtExp,
      series: bandSeries(bCenter2, undefined, RED, bCenter2, bLo2, bHi2, bSpikeX2, bSpikeLo2, bSpikeHi2, BAND_RED), legend: col2Legend(475, 281, 157, 17) },
    { box: [693, 275, 966, 457], title: T3, ylabel: YL3, ylabelX: 651, domain: [-10.97, -1.135], ticks: [-10, -8, -6, -4, -2], fmt: fmtInt,
      series: likeSeries(bChosenNoRC, bRejNoRC, bChosenRC, bRejRC), legend: col3Legend(793, 330, 167) },
    { box: [1019, 275, 1292, 457], title: T4, ylabel: YL4, ylabelX: 985, domain: [0.253, 1.244], ticks: [0.4, 0.6, 0.8, 1.0, 1.2], fmt: fmtDec,
      series: marginSeries(bMarginNoRC, bMarginRC), legend: col4Legend(1023, 281, 113) },
    // (c)
    { box: [38, 535, 311, 717], title: T1, ylabel: YL1, ylabelX: 14, log: true, domain: [0.53, 2.25], ticks: [1], minor: [0.6, 0.7, 0.8, 0.9, 2], fmt: fmtExp,
      series: bandSeries(cRt1, undefined, BLUE, cCenter1, cLo1, cHi1, cSpikeX1, cSpikeLo1, cSpikeHi1, BAND_BLUE), legend: col1Legend(147, 541, 157, 17) },
    { box: [365, 535, 638, 717], title: T2, ylabel: YL1, ylabelX: 341, log: true, domain: [0.364, 4.05], ticks: [1], minor: [0.4, 0.5, 0.6, 0.7, 0.8, 0.9, 2, 3, 4], fmt: fmtExp,
      series: bandSeries(cCenter2, undefined, RED, cCenter2, cLo2, cHi2, cSpikeX2, cSpikeLo2, cSpikeHi2, BAND_RED), legend: col2Legend(475, 541, 157, 17) },
    { box: [693, 535, 966, 717], title: T3, ylabel: YL3, ylabelX: 657, domain: [-6.74, -1.14], ticks: [-6, -5, -4, -3, -2], fmt: fmtInt,
      series: likeSeries(cChosenNoRC, cRejNoRC, cChosenRC, cRejRC), legend: col3Legend(793, 590, 167) },
    { box: [1019, 535, 1292, 717], title: T4, ylabel: YL4, ylabelX: 985, domain: [0.178, 0.549], ticks: [0.2, 0.3, 0.4, 0.5], fmt: fmtDec,
      series: marginSeries(cMarginNoRC, cMarginRC), legend: col4Legend(1023, 541, 113) },
    // (d)
    { box: [41, 796, 312, 977], title: T1, ylabel: YL1, ylabelX: 14, sans: true, log: true, domain: [0.626, 1.96], ticks: [1], minor: [0.7, 0.8, 0.9], fmt: fmtExp,
      series: bandSeries(dRtNoRC, RT_STEPS, BLUE, dCenter1, dLo1, dHi1, dSpikeX1, dSpikeLo1, dSpikeHi1, BAND_BLUE), legend: col1Legend(136, 801, 170, 17.5, true) },
    { box: [367, 796, 638, 977], title: T2, ylabel: YL1, ylabelX: 340, sans: true, log: true, domain: [0.757, 1.71], ticks: [1], minor: [0.8, 0.9], fmt: fmtExp,
      series: bandSeries(dCenter2, undefined, RED, dCenter2, dLo2, dHi2, dSpikeX2, dSpikeLo2, dSpikeHi2, BAND_RED), legend: col2Legend(462, 801, 170, 17.5, true) },
    { box: [692, 796, 964, 977], title: T3, ylabel: YL3, ylabelX: 654, sans: true, domain: [-7.11, -2.73], ticks: [-7, -6, -5, -4, -3], fmt: fmtInt,
      series: likeSeries(dChosenNoRC, dRejNoRC, dChosenRC, dRejRC), legend: col3Legend(787, 849, 173) },
    { box: [1018, 796, 1291, 977], title: T4, ylabel: YL4, ylabelX: 980, sans: true, domain: [0.12, 0.643], ticks: [0.2, 0.3, 0.4, 0.5, 0.6], fmt: fmtDec,
      series: marginSeries(dMarginNoRC, dMarginRC), legend: col4Legend(1019, 800, 124, 17.5) },
    // (e)
    { box: [53, 1054, 322, 1236], title: T1, ylabel: YL1, ylabelX: 13, log: true, domain: [0.000045, 32000], ticks: [0.001, 0.1, 10, 1000], fmt: fmtExp,
      series: bandSeries(eRtNoRC, RT_STEPS, BLUE, eCenter1, eLo1, eHi1, eSpikeX1, eSpikeLo1, eSpikeHi1, BAND_BLUE, BAND_BLUE_DENSE), legend: col1Legend(163, 1061, 153, 17.5) },
    { box: [377, 1054, 646, 1236], title: T2, ylabel: YL1, ylabelX: 337, log: true, domain: [0.0032, 1540], ticks: [0.01, 0.1, 1, 10, 100, 1000],
      minor: [0.004, 0.005, 0.006, 0.007, 0.008, 0.009, 0.02, 0.03, 0.04, 0.05, 0.06, 0.07, 0.08, 0.09,
        0.2, 0.3, 0.4, 0.5, 0.6, 0.7, 0.8, 0.9, 2, 3, 4, 5, 6, 7, 8, 9,
        20, 30, 40, 50, 60, 70, 80, 90, 200, 300, 400, 500, 600, 700, 800, 900], fmt: fmtExp,
      series: bandSeries(eCenter2, undefined, RED, eCenter2, eLo2, eHi2, eSpikeX2, eSpikeLo2, eSpikeHi2, BAND_RED), legend: col2Legend(486, 1061, 154, 17.5) },
    { box: [700, 1054, 969, 1236], title: T3, ylabel: YL3, ylabelX: 656, domain: [-4.29, -0.874], ticks: [-4.0, -3.5, -3.0, -2.5, -2.0, -1.5, -1.0], fmt: fmtDec,
      series: likeSeries(eChosenNoRC, eRejNoRC, eChosenRC, eRejRC), legend: col3Legend(798, 1110, 165) },
    { box: [1023, 1054, 1293, 1236], title: T4, ylabel: YL4, ylabelX: 984, domain: [-0.05, 2.31], ticks: [0.0, 0.5, 1.0, 1.5, 2.0], fmt: fmtDec,
      series: marginSeries(eMarginNoRC, eMarginRC), legend: col4Legend(1028, 1062, 107) },
  ]
  return (
    <div style={{ position: 'absolute', left: 0, top: 0, width: 1319, height: 1297, background: '#fff', overflow: 'hidden' }}>
      {panels.map((p, i) => <Panel key={i} {...p} />)}
      {CAPTIONS.map((c) => (
        <div key={c.tag} style={{ position: 'absolute', left: 0, width: 1319, top: c.y - 12, textAlign: 'center', fontFamily: SERIF, fontSize: 21, lineHeight: '24px' }}>
          <i>{c.tag}</i> {c.name}
        </div>
      ))}
    </div>
  )
}
